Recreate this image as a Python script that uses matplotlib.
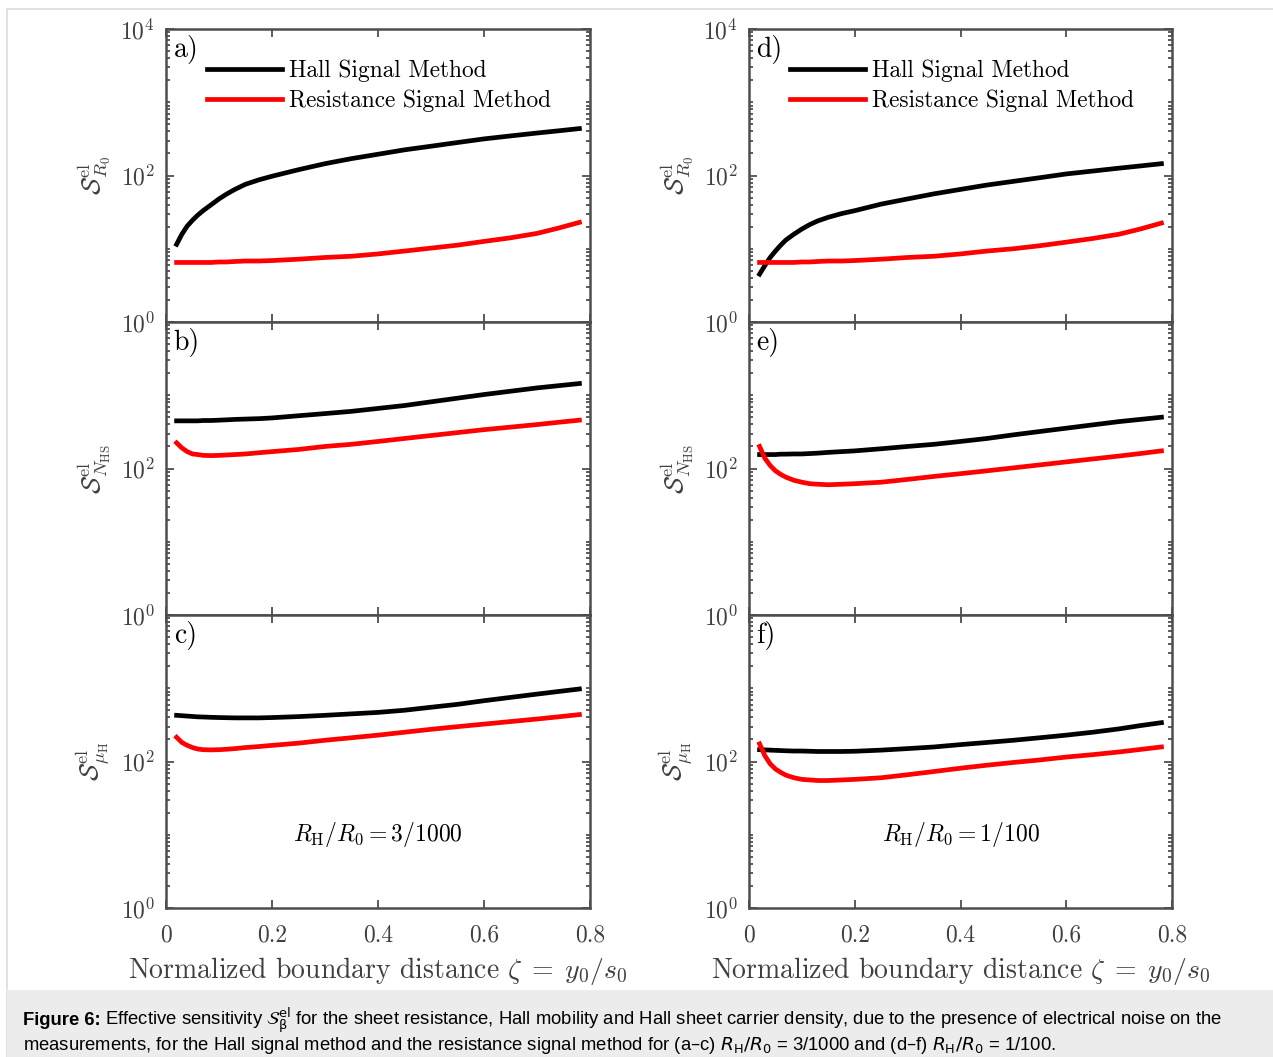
import matplotlib
matplotlib.use("Agg")
import matplotlib.pyplot as plt
from matplotlib.ticker import FixedLocator, LogLocator, NullFormatter
from matplotlib.patches import Rectangle

plt.rcParams['font.family'] = 'serif'
plt.rcParams['font.serif'] = ['cmr10']
plt.rcParams['mathtext.fontset'] = 'cm'
plt.rcParams['axes.unicode_minus'] = False
plt.rcParams['axes.formatter.use_mathtext'] = True

# normalized boundary distance (same grid for all panels)
zeta = [0.02, 0.03, 0.04, 0.05, 0.06, 0.07, 0.085, 0.1, 0.115, 0.13, 0.15, 0.175, 0.2,
        0.25, 0.3, 0.35, 0.4, 0.45, 0.5, 0.55, 0.6, 0.65, 0.7, 0.74, 0.78]

# R_H/R_0 = 3/1000
hall_R0_a = [11.5, 15.8, 20.4, 24.5, 28.8, 33.1, 39.8, 47.9, 56.2, 64.6, 75.9, 87.1, 97.7,
             120, 145, 170, 195, 224, 251, 282, 316, 347, 380, 407, 437]
res_R0_a = [6.5, 6.5, 6.5, 6.5, 6.5, 6.5, 6.5, 6.6, 6.6, 6.7, 6.8, 6.8, 6.9,
            7.2, 7.6, 7.9, 8.5, 9.3, 10.2, 11.2, 12.6, 14.1, 16.2, 19.1, 22.9]
hall_N_b = [447, 447, 447, 447, 447, 452, 452, 457, 462, 468, 473, 479, 490,
            525, 562, 603, 661, 724, 813, 912, 1023, 1135, 1259, 1349, 1445]
res_N_b = [224, 191, 170, 158, 155, 151, 150, 151, 153, 155, 158, 164, 170,
           182, 200, 214, 234, 257, 282, 309, 339, 367, 398, 427, 457]
hall_mu_c = [427, 422, 417, 412, 407, 405, 401, 398, 396, 394, 394, 394, 398,
             410, 427, 447, 468, 501, 550, 603, 676, 750, 832, 902, 977]
res_mu_c = [214, 182, 166, 155, 148, 145, 144, 145, 147, 150, 155, 160, 166,
            178, 195, 211, 229, 251, 275, 299, 324, 351, 380, 407, 437]

# R_H/R_0 = 1/100
hall_R0_d = [4.5, 5.9, 7.6, 9.3, 11.2, 13.2, 15.8, 18.6, 21.4, 24.0, 26.9, 30.2, 33.1,
             40.7, 47.9, 56.2, 64.6, 74.1, 83.2, 93.3, 105, 115, 126, 135, 145]
res_R0_d = [6.5, 6.5, 6.5, 6.5, 6.5, 6.5, 6.5, 6.6, 6.6, 6.7, 6.8, 6.8, 6.9,
            7.2, 7.6, 7.9, 8.5, 9.3, 10.0, 11.0, 12.3, 13.8, 15.8, 18.6, 22.4]
hall_N_e = [155, 155, 155, 155, 157, 157, 158, 158, 160, 162, 166, 170, 174,
            186, 200, 214, 234, 257, 288, 320, 355, 394, 437, 468, 501]
res_N_e = [200, 138, 110, 93, 83, 76, 69, 65, 62, 61, 60, 61, 62,
           65, 71, 78, 85, 93, 102, 112, 123, 135, 148, 160, 174]
hall_mu_f = [145, 144, 143, 142, 141, 140, 139, 139, 138, 137, 137, 137, 138,
             143, 150, 158, 170, 182, 195, 211, 229, 251, 279, 309, 339]
res_mu_f = [174, 120, 93, 79, 71, 65, 60, 57, 56, 55, 55, 56, 57,
            60, 66, 73, 81, 89, 97, 105, 115, 124, 135, 146, 158]

panels = [
    ('a)', hall_R0_a, res_R0_a, r'$\mathcal{S}^{\mathrm{el}}_{R_0}$'),
    ('b)', hall_N_b, res_N_b, r'$\mathcal{S}^{\mathrm{el}}_{N_\mathrm{HS}}$'),
    ('c)', hall_mu_c, res_mu_c, r'$\mathcal{S}^{\mathrm{el}}_{\mu_\mathrm{H}}$'),
    ('d)', hall_R0_d, res_R0_d, r'$\mathcal{S}^{\mathrm{el}}_{R_0}$'),
    ('e)', hall_N_e, res_N_e, r'$\mathcal{S}^{\mathrm{el}}_{N_\mathrm{HS}}$'),
    ('f)', hall_mu_f, res_mu_f, r'$\mathcal{S}^{\mathrm{el}}_{\mu_\mathrm{H}}$'),
]
ratio_labels = [r'$R_\mathrm{H}/R_0 = 3/1000$', r'$R_\mathrm{H}/R_0 = 1/100$']

W, H = 1273, 1057
fig = plt.figure(figsize=(W / 100, H / 100), dpi=100)

# light frame and caption box
fig.patches.append(Rectangle((7 / W, 0), 1.0, 1 - 9 / H, transform=fig.transFigure,
                             facecolor='none', edgecolor='#dcdcdc', lw=1.2))
fig.patches.append(Rectangle((7 / W, 0), 1.0, 67 / H, transform=fig.transFigure,
                             facecolor='#ececec', edgecolor='none'))

gray = '#404040'
col_left = [166 / W, 749 / W]
col_width = [424 / W, 423 / W]
row_bottom = [1 - 322 / H, 1 - 615 / H, 1 - 908 / H]
row_height = 293 / H

for i, (letter, hall, res, ylab) in enumerate(panels):
    col, row = divmod(i, 3)
    ax = fig.add_axes([col_left[col], row_bottom[row], col_width[col], row_height])
    ax.plot(zeta, hall, color='black', lw=3.4, label='Hall Signal Method')
    ax.plot(zeta, res, color='#ff0000', lw=3.4, label='Resistance Signal Method')
    ax.set_yscale('log')
    ax.set_xlim(0, 0.8)
    ax.set_ylim(1, 1e4)
    ax.yaxis.set_major_locator(FixedLocator([1, 100, 1e4]))
    ax.yaxis.set_minor_locator(LogLocator(base=10, subs=range(1, 10), numticks=20))
    ax.yaxis.set_minor_formatter(NullFormatter())
    if row == 0:
        ax.set_yticklabels([r'$10^0$', r'$10^2$', r'$10^4$'])
    else:
        ax.set_yticklabels([r'$10^0$', r'$10^2$', ''])
    ax.set_xticks([0, 0.2, 0.4, 0.6, 0.8])
    if row == 2:
        ax.set_xticklabels(['0', '0.2', '0.4', '0.6', '0.8'])
        ax.set_xlabel(r'Normalized boundary distance $\zeta\; =\; y_0/s_0$', fontsize=20,
                      color=gray, labelpad=6)
        ax.text(0.4, 10, ratio_labels[col], ha='center', va='center', fontsize=17)
    else:
        ax.set_xticklabels([])
    ax.tick_params(which='both', direction='in', top=True, right=True, colors=gray,
                   labelsize=17, width=1.2, pad=8)
    ax.tick_params(axis='x', pad=12)
    ax.tick_params(which='major', length=6)
    ax.tick_params(which='minor', length=3)
    for s in ax.spines.values():
        s.set_color('#4d4d4d')
        s.set_linewidth(1.8)
    ax.set_ylabel(ylab, fontsize=19, color=gray, labelpad=6)
    ax.text(0.018, 0.98, letter, transform=ax.transAxes, ha='left', va='top', fontsize=20)
    if row == 0:
        ax.legend(loc='upper left', bbox_to_anchor=(0.097, 0.895), frameon=False, fontsize=16.8,
                  handlelength=3.2, handletextpad=0.3, borderpad=0, borderaxespad=0,
                  labelspacing=0.3)

# caption
fam = ['Liberation Sans', 'DejaVu Sans']
cap_size = 13.3
t0 = fig.text(23 / W, 1 - 1025 / H, 'Figure 6:', fontsize=cap_size, fontweight='bold',
              family=fam, va='baseline')
fig.canvas.draw()
bb = t0.get_window_extent()
fig.text(bb.x1 / W + 4 / W, 1 - 1025 / H,
         r'Effective sensitivity $\mathcal{S}^{\mathrm{el}}_{\mathrm{\beta}}$ for the sheet resistance, '
         'Hall mobility and Hall sheet carrier density, due to the presence of electrical noise on the',
         fontsize=cap_size, family=fam, va='baseline', math_fontfamily='dejavusans')
fig.text(23 / W, 1 - 1050 / H,
         'measurements, for the Hall signal method and the resistance signal method for (a\u2013c) '
         r'$R_\mathrm{H}/R_0$ = 3/1000 and (d' '\u2013' r'f) $R_\mathrm{H}/R_0$ = 1/100.',
         fontsize=cap_size, family=fam, va='baseline', math_fontfamily='dejavusans')

fig.savefig('out.png', dpi=100)
